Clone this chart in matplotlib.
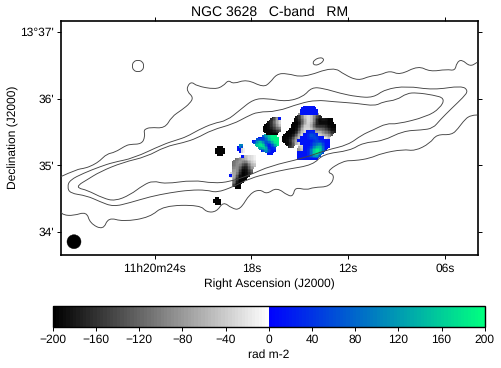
import numpy as np
import matplotlib
matplotlib.use("Agg")
import matplotlib.pyplot as plt
from matplotlib.colors import LinearSegmentedColormap, Normalize
from matplotlib.cm import ScalarMappable
from matplotlib.path import Path
from matplotlib.patches import PathPatch, Ellipse

plt.rcParams['font.family'] = ['Liberation Sans', 'DejaVu Sans']
plt.rcParams['text.hinting'] = 'no_hinting'
plt.rcParams['text.hinting_factor'] = 1

W, H = 501, 368
TITLE = "NGC 3628   C-band   RM"
XLABEL = "Right Ascension (J2000)"
YLABEL = "Declination (J2000)"
CBAR_LABEL = "rad m-2"
RA_TICKS = [24, 18, 12, 6]
RA_LABELS = ["11h20m24s", "18s", "12s", "06s"]
DEC_TICKS = [37, 36, 35, 34]
DEC_LABELS = ["13°37'", "36'", "35'", "34'"]
CBAR_TICKS = [-200, -160, -120, -80, -40, 0, 40, 80, 120, 160, 200]

# Contours (picture x, picture y)
outer_upper = [(60.7,176.7),(76.7,169.3),(85,168.3),(93.3,165),(100,160.7),(106.7,154),(115,152.3),(125,146),(130,144.3),
    (141.7,144),(145,136.7),(144,131),(145,129.3),(150,127.3),(165,128.3),(171.7,116.7),(181.7,110),(190,103.3),(193.3,97.3),
    (187.3,91.7),(187.3,86),(191.7,81.7),(196.7,86),(215,89.3),(223.3,86),(228.3,80),(233.3,84),(246.7,79.3),(263.3,87.3),
    (270,82.7),(276.7,74),(286.7,73.3),(303.3,77.7),(333.3,66.7),(345,75),(358.3,80.7),(370,76),(380,75),(390,70.7),(400,75),
    (418.3,65.7),(430,71.7),(446.7,69.3),(455,70.7),(456.7,62.7),(461.7,59.3),(470,66.7),(477.3,62.3)]
outer_lower = [(477.3,115),(470,115),(463,121.7),(458.3,128.3),(451.7,135),(436.7,134.3),(430,143.3),(415,151),(403.3,149.3),
    (381.7,153.3),(370,158.3),(355,160.7),(343.3,160.7),(326,171.7),(335,175),(330,186.7),(313.3,187.3),(306.7,190),(295,187.3),
    (293.3,195.7),(288.3,196),(276.7,187.3),(266.7,194.3),(260,189.3),(250,193.3),(240,210),(231.7,208.3),(223.3,201.7),
    (216.7,211.7),(206.7,212.3),(200,205),(163.3,205.7),(150,217.3),(123.3,221.7),(108.3,217.3),(103.3,230),(90,223.3),
    (86.7,211.7),(73.3,215.7),(63.3,215),(60.7,211.7)]
middle = [(67.3,186.7),(70,180),(83.3,173.3),(100,166.7),(113.3,162.3),(133.3,158.3),(163.3,144.3),(176.7,140),(186.7,136.7),
    (198.3,130),(213.3,123.3),(226.7,120.7),(240,110),(253.3,99.3),(266.7,98.3),(286.7,101.7),(303.3,96.7),(311.7,87.3),
    (323.3,88.3),(340,93.3),(356.7,96.7),(373.3,97.7),(385,89.3),(406.7,86),(433.3,90),(461.7,85.7),(468.3,90.7),(463.3,97.3),
    (451.7,108.3),(440,120),(433,128.3),(421.7,130),(403,131),(383,141),(363,142.7),(350,150.7),(323,154),(313,165),(286.7,169.3),
    (270,173),(250,178.3),(233.3,186.7),(216.7,192.7),(206.7,190),(190,190),(170,192.7),(150,196.7),(130,202.7),(113.3,206.7),
    (100,201.7),(86.7,195.7),(70,193.3)]
inner = [(78.3,185),(86.7,180),(100,171.7),(123,162.3),(146.7,156.7),(165,146.7),(183.3,142.7),(196.7,138.3),(211.7,130),
    (233.3,124),(246.7,116.7),(258,111.7),(276.7,111.7),(300,103.3),(316.7,100),(333.3,101.7),(356.7,103.3),(375,106),(383.3,101.7),
    (396.7,100),(406.7,93.3),(416.7,92.7),(433,95),(445,98.3),(440,108.3),(426.7,116.7),(396.7,124.3),(386.7,123.3),(373,130),
    (361.7,135),(348,145),(326.7,150),(303,158.3),(270,166),(250,175),(230,181.7),(213.3,183.3),(193.3,180),(165,184),(153.3,180.7),
    (143.3,185),(130,195),(115,201),(103.3,198.3),(86.7,190),(78.3,188.3)]
island_left = [(132,66),(133.5,61.5),(138,60),(142.5,61.5),(144,66),(142.5,70.5),(138,72),(133.5,70.5)]
island_right = [(312.5,63),(315,59.5),(320,57.5),(323.5,58.5),(323.5,61),(320,64),(315,65.5)]
beam = (74, 241.7, 14, 14)

# RM maps read cell by cell: digits = negative RM (0 black .. 9 white), letters = positive (a blue .. e green)
LEVELS = {**{str(d): -195 + 20.5 * d for d in range(10)}, 'a': 15, 'b': 60, 'c': 100, 'd': 140, 'e': 190}
blob_a = ([".......aaaa.......",
           "......aaaaaa......",
           "......aaaaaa......",
           ".....14788642.....",
           "....0136886201100.",
           "....0025886200000.",
           "...000378741111000",
           "...001588864332100",
           "..000268aaa6654311",
           ".000158aabba87553.",
           "000147aaabbbaa97..",
           "00136aaaaaabaaaa..",
           ".00268aaaabbcbaa..",
           "..13..8aaabcdcaa..",
           ".....57aabdeeda...",
           ".....aaaabdeeb....",
           ".....aaaabdeb.....",
           ".....aaaaaaa......"], 282, 106, 3)
blob_b = (["....ddee.",
           "..aabdeee",
           "abdcbcdee",
           ".deebabde",
           "..deeaab.",
           "...adcaa.",
           ".....aa.."], 252, 134, 3)
blob_c = (["...15a",
           "..1368",
           ".01358",
           "001246",
           "000123",
           ".0000."], 263, 117, 3)
blob_d = ([".000.", "00000", "00000", "00000", ".000."], 215, 146, 2)
blob_e = ([".00.", "0000", "0000", ".000"], 213, 197, 2)
blob_f = ([".cc.", "acb.", "aa89", ".a89"], 237, 145, 2)
blob_g = (["....a7889",
           "..4566889",
           ".45653578",
           ".45531367",
           ".5641025.",
           ".6630013.",
           "a751001..",
           ".73000...",
           ".6200....",
           ".400.....",
           "..00....."], 229, 156, 3)
blobs = [blob_a, blob_b, blob_c, blob_d, blob_e, blob_f, blob_g]

# Picture-to-sky scales, taken from the tick positions of the reference
def to_ra(px):
    return 24 - (np.asarray(px, float) - 154.8) / 16.11
def to_dec(py):
    return 37 - (np.asarray(py, float) - 32.0) / 66.6

def refine(grid, factor=2):
    """Resample the read-off cells to rounded edges, keeping negative and positive RM apart."""
    g = np.kron(grid, np.ones((factor, factor)))
    n, m = g.shape
    out = np.full((n, m), np.nan)
    r = factor // 2 + 1
    for i in range(n):
        for j in range(m):
            w = g[max(i - r + 1, 0):i + r, max(j - r + 1, 0):j + r]
            valid = w[~np.isnan(w)]
            if valid.size * 2.4 < w.size:
                continue
            if np.isnan(g[i, j]):
                same = valid
            else:
                same = valid[np.sign(valid) == np.sign(g[i, j])]
            if same.size:
                out[i, j] = same.mean()
    return out

cmap = LinearSegmentedColormap.from_list(
    "rm", [(0, "#000000"), (0.5, "#ffffff"), (0.5, "#0000ff"), (1, "#00ff80")], N=128)
cmap.set_bad((1, 1, 1, 0))
norm = Normalize(-200, 200)

fig = plt.figure(figsize=(W / 100, H / 100), dpi=100, facecolor='white')
L, R, T, B = 60.5, 477.5, 21.0, 255.0
ax = fig.add_axes([L / W, 1 - B / H, (R - L) / W, (B - T) / H])

for rows, x0, y0, cell in blobs:
    ncol = max(len(r) for r in rows)
    grid = np.full((len(rows), ncol), np.nan)
    for i, r in enumerate(rows):
        for j, ch in enumerate(r):
            if ch in LEVELS:
                grid[i, j] = LEVELS[ch]
    fine = refine(grid, 2) if cell == 3 else grid
    ax.imshow(np.ma.masked_invalid(fine), cmap=cmap, norm=norm, aspect='auto', interpolation='nearest',
              origin='upper', zorder=1,
              extent=[to_ra(x0), to_ra(x0 + ncol * cell), to_dec(y0 + len(rows) * cell), to_dec(y0)])

def smooth_path(points, closed=False):
    p = np.column_stack([to_ra([q[0] for q in points]), to_dec([q[1] for q in points])])
    if closed:
        start = (p[-1] + p[0]) / 2
        verts, codes = [start], [Path.MOVETO]
        seq = np.vstack([p, p[:1]])
        for a, b in zip(seq[:-1], seq[1:]):
            verts += [a, (a + b) / 2]
            codes += [Path.CURVE3, Path.CURVE3]
    else:
        verts, codes = [p[0]], [Path.MOVETO]
        for a, b in zip(p[1:-1], p[2:]):
            verts += [a, (a + b) / 2]
            codes += [Path.CURVE3, Path.CURVE3]
        verts += [p[-1]]
        codes += [Path.LINETO]
    return Path(verts, codes)

LINE = dict(fill=False, edgecolor='#444444', linewidth=0.65, zorder=3)
ax.add_patch(PathPatch(smooth_path(outer_upper), **LINE))
ax.add_patch(PathPatch(smooth_path(outer_lower), **LINE))
ax.add_patch(PathPatch(smooth_path(middle, True), **LINE))
ax.add_patch(PathPatch(smooth_path(inner, True), **LINE))
ax.add_patch(PathPatch(smooth_path(island_left, True), **LINE))
ax.add_patch(PathPatch(smooth_path(island_right, True), **LINE))

ax.set_xlim(to_ra(L), to_ra(R))
ax.set_ylim(to_dec(B), to_dec(T))

sx = 16.11  # px per RA second
sy = 66.6   # px per arcmin
ax.add_patch(Ellipse((to_ra(beam[0]), to_dec(beam[1])), beam[2] / sx, beam[3] / sy, facecolor='black', edgecolor='black', linewidth=0.3, zorder=4))

ax.set_xticks(RA_TICKS)
ax.set_xticklabels(RA_LABELS)
ax.set_yticks(DEC_TICKS)
ax.set_yticklabels(DEC_LABELS)
ax.tick_params(axis='both', which='major', direction='out', length=3, width=0.7, labelsize=8.5, pad=1.5,
               top=True, right=True, color='black')
ax.tick_params(axis='x', pad=3)
for s in ax.spines.values():
    s.set_linewidth(1.2)
ax.set_title(TITLE, fontsize=10, pad=3.8, x=(269.5 - L) / (R - L))
fig.text(269 / W, 1 - 284.5 / H, XLABEL, fontsize=8.5, ha='center', va='center')
fig.text(13 / W, 1 - 137 / H, YLABEL, fontsize=8.5, ha='center', va='center', rotation=90)

cL, cR, cT, cB = 52.7, 484.7, 305.7, 327.0
cax = fig.add_axes([cL / W, 1 - cB / H, (cR - cL) / W, (cB - cT) / H])
cb = fig.colorbar(ScalarMappable(norm=norm, cmap=cmap), cax=cax, orientation='horizontal')
cb.set_ticks(CBAR_TICKS)
cb.ax.tick_params(length=3, width=0.7, labelsize=8.5, pad=2.5)
cb.outline.set_linewidth(1.0)
fig.text(269 / W, 1 - 355 / H, CBAR_LABEL, fontsize=8.5, ha='center', va='center')

fig.savefig("out.png", dpi=100, facecolor='white')
